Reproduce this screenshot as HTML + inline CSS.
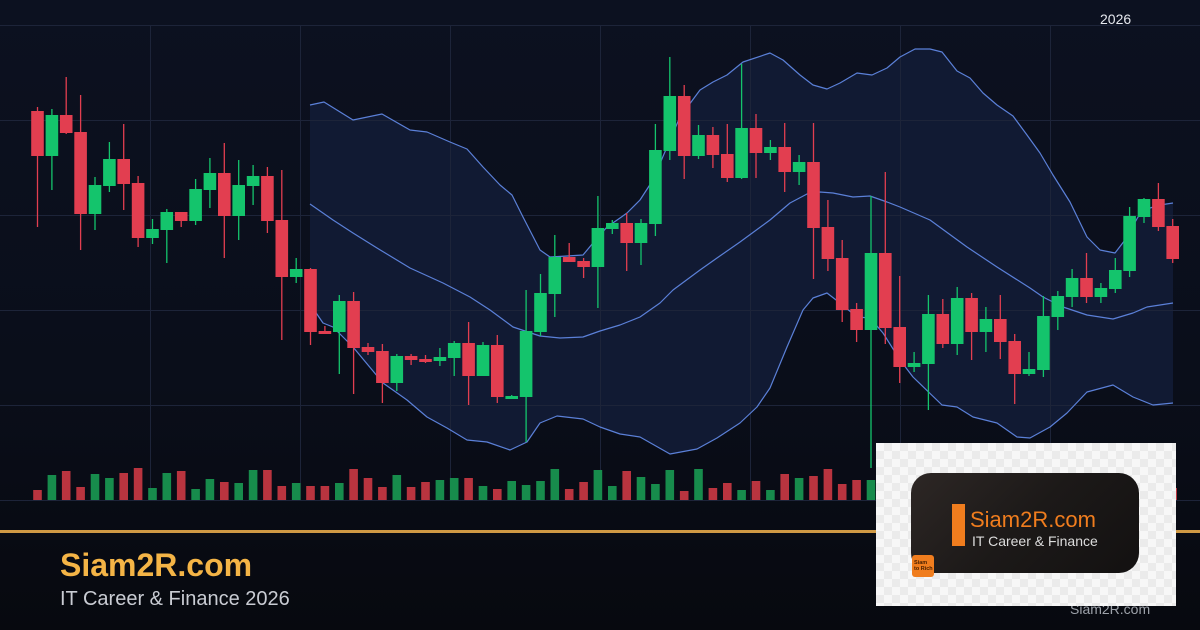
<!DOCTYPE html>
<html>
<head>
<meta charset="utf-8">
<style>
  html,body{margin:0;padding:0;}
  body{width:1200px;height:630px;overflow:hidden;position:relative;
    background:linear-gradient(180deg,#0c1120 0%,#0a0e1a 60%,#07090f 100%);
    font-family:"Liberation Sans",Arial,sans-serif;}
  svg{position:absolute;left:0;top:0;}
  .g line{stroke:#14c46c;stroke-width:1.3}
  .g .b{fill:#14c46c}
  .g .v{fill:#178c4c}
  .r line{stroke:#e23e50;stroke-width:1.3}
  .r .b{fill:#e23e50}
  .r .v{fill:#b9343f}
  .title{position:absolute;left:60px;top:547px;font-size:32px;font-weight:bold;color:#f4b446;letter-spacing:0px;}
  .sub{position:absolute;left:60px;top:588px;font-size:20px;color:#c9ccd3;}
  .yr{position:absolute;left:1100px;top:11px;font-size:14px;color:#e6e8ee;}
  .wm{position:absolute;left:1070px;top:601px;font-size:14px;color:#9da2aa;}
  .logo{position:absolute;left:876px;top:443px;width:300px;height:163px;
    background:repeating-conic-gradient(#ebebeb 0% 25%,#f7f7f7 0% 50%) 0 0/16px 16px;}
  .card{position:absolute;left:35px;top:30px;width:228px;height:100px;border-radius:20px;
    background:linear-gradient(135deg,#2d2725 0%,#1c1918 50%,#131111 100%);}
  .bar{position:absolute;left:41px;top:31px;width:13px;height:42px;background:#f07d1e;}
  .lt{position:absolute;left:59px;top:34px;font-size:22px;color:#f07d1e;white-space:nowrap;}
  .ls{position:absolute;left:61px;top:59px;font-size:14px;color:#dcdcdc;white-space:nowrap;}
  .badge{position:absolute;left:36px;top:112px;width:22px;height:22px;border-radius:3px;background:#f07d1e;
    font-size:5.5px;line-height:6px;color:#4a2000;font-weight:bold;padding:5px 0 0 2px;box-sizing:border-box;}
</style>
</head>
<body>
<svg width="1200" height="630" viewBox="0 0 1200 630">
  <polygon fill="#111a33" points="310,105 324,102 353,120 382,114 410,130 427,132 450,142 467,149 483,167 500,185 512,195 523,217 540,250 550,257 567,256 583,255 593,243 607,227 620,218 627,213 640,200 653,180 667,147 680,117 700,90 713,82 727,75 743,62 770,53 783,60 800,75 813,85 827,89 840,83 857,73 872,75 887,68 900,57 915,49 930,49 942,52 957,71 970,78 983,93 997,105 1013,116 1027,135 1040,153 1053,175 1070,202 1087,237 1100,250 1115,253 1125,240 1138,217 1150,208 1160,205 1173,203 1173,403 1153,405 1133,397 1113,385 1087,392 1067,413 1050,427 1030,438 1017,437 997,423 973,417 957,407 942,405 913,377 900,360 883,333 870,318 857,317 840,303 827,293 813,298 803,310 787,347 770,388 757,407 740,423 717,438 697,449 670,454 640,437 620,434 600,427 583,419 557,416 540,423 527,442 510,450 487,442 467,440 447,428 427,417 407,400 383,383 353,347 333,327 323,323 310,304"/>
  <g stroke="#1d2439" stroke-width="1">
    <line x1="0" y1="25.5" x2="1200" y2="25.5"/>
    <line x1="0" y1="120.5" x2="1200" y2="120.5"/>
    <line x1="0" y1="215.5" x2="1200" y2="215.5"/>
    <line x1="0" y1="310.5" x2="1200" y2="310.5"/>
    <line x1="0" y1="405.5" x2="1200" y2="405.5"/>
    <line x1="0" y1="500.5" x2="1200" y2="500.5"/>
    <line x1="150.5" y1="25" x2="150.5" y2="500"/>
    <line x1="300.5" y1="25" x2="300.5" y2="500"/>
    <line x1="450.5" y1="25" x2="450.5" y2="500"/>
    <line x1="600.5" y1="25" x2="600.5" y2="500"/>
    <line x1="750.5" y1="25" x2="750.5" y2="500"/>
    <line x1="900.5" y1="25" x2="900.5" y2="500"/>
    <line x1="1050.5" y1="25" x2="1050.5" y2="500"/>
  </g>
  <g fill="none" stroke="#5b80d8" stroke-width="1.2" stroke-linejoin="round">
    <polyline points="310,105 324,102 353,120 382,114 410,130 427,132 450,142 467,149 483,167 500,185 512,195 523,217 540,250 550,257 567,256 583,255 593,243 607,227 620,218 627,213 640,200 653,180 667,147 680,117 700,90 713,82 727,75 743,62 770,53 783,60 800,75 813,85 827,89 840,83 857,73 872,75 887,68 900,57 915,49 930,49 942,52 957,71 970,78 983,93 997,105 1013,116 1027,135 1040,153 1053,175 1070,202 1087,237 1100,250 1115,253 1125,240 1138,217 1150,208 1160,205 1173,203"/>
    <polyline points="310,204 333,220 353,233 377,248 410,268 443,283 470,297 490,310 513,327 540,336 560,338 583,337 600,331 620,325 640,317 660,303 673,290 700,270 717,258 740,242 770,220 790,203 807,194 820,192 833,193 853,197 870,196 887,202 900,207 930,220 967,247 997,267 1030,288 1043,297 1063,307 1087,315 1113,319 1133,313 1147,307 1173,303"/>
    <polyline points="310,304 323,323 333,327 353,347 383,383 407,400 427,417 447,428 467,440 487,442 510,450 527,442 540,423 557,416 583,419 600,427 620,434 640,437 670,454 697,449 717,438 740,423 757,407 770,388 787,347 803,310 813,298 827,293 840,303 857,317 870,318 883,333 900,360 913,377 942,405 957,407 973,417 997,423 1017,437 1030,438 1050,427 1067,413 1087,392 1113,385 1133,397 1153,405 1173,403"/>
  </g>
  <g class="r" transform="translate(37.5 0)"><line y1="107" y2="227"/><rect class="b" x="-6.3" y="111" width="12.6" height="45"/><rect class="v" x="-4.3" y="490" width="8.6" height="10"/></g>
  <g class="g" transform="translate(51.9 0)"><line y1="109" y2="190"/><rect class="b" x="-6.3" y="115" width="12.6" height="41"/><rect class="v" x="-4.3" y="475" width="8.6" height="25"/></g>
  <g class="r" transform="translate(66.2 0)"><line y1="77" y2="134"/><rect class="b" x="-6.3" y="115" width="12.6" height="18"/><rect class="v" x="-4.3" y="471" width="8.6" height="29"/></g>
  <g class="r" transform="translate(80.6 0)"><line y1="95" y2="250"/><rect class="b" x="-6.3" y="132" width="12.6" height="82"/><rect class="v" x="-4.3" y="487" width="8.6" height="13"/></g>
  <g class="g" transform="translate(95.0 0)"><line y1="177" y2="230"/><rect class="b" x="-6.3" y="185" width="12.6" height="29"/><rect class="v" x="-4.3" y="474" width="8.6" height="26"/></g>
  <g class="g" transform="translate(109.4 0)"><line y1="142" y2="192"/><rect class="b" x="-6.3" y="159" width="12.6" height="27"/><rect class="v" x="-4.3" y="478" width="8.6" height="22"/></g>
  <g class="r" transform="translate(123.7 0)"><line y1="124" y2="210"/><rect class="b" x="-6.3" y="159" width="12.6" height="25"/><rect class="v" x="-4.3" y="473" width="8.6" height="27"/></g>
  <g class="r" transform="translate(138.1 0)"><line y1="176" y2="247"/><rect class="b" x="-6.3" y="183" width="12.6" height="55"/><rect class="v" x="-4.3" y="468" width="8.6" height="32"/></g>
  <g class="g" transform="translate(152.5 0)"><line y1="219" y2="244"/><rect class="b" x="-6.3" y="229" width="12.6" height="9"/><rect class="v" x="-4.3" y="488" width="8.6" height="12"/></g>
  <g class="g" transform="translate(166.8 0)"><line y1="209" y2="263"/><rect class="b" x="-6.3" y="212" width="12.6" height="18"/><rect class="v" x="-4.3" y="473" width="8.6" height="27"/></g>
  <g class="r" transform="translate(181.2 0)"><line y1="212" y2="227"/><rect class="b" x="-6.3" y="212" width="12.6" height="9"/><rect class="v" x="-4.3" y="471" width="8.6" height="29"/></g>
  <g class="g" transform="translate(195.6 0)"><line y1="179" y2="225"/><rect class="b" x="-6.3" y="189" width="12.6" height="32"/><rect class="v" x="-4.3" y="489" width="8.6" height="11"/></g>
  <g class="g" transform="translate(209.9 0)"><line y1="158" y2="208"/><rect class="b" x="-6.3" y="173" width="12.6" height="17"/><rect class="v" x="-4.3" y="479" width="8.6" height="21"/></g>
  <g class="r" transform="translate(224.3 0)"><line y1="143" y2="258"/><rect class="b" x="-6.3" y="173" width="12.6" height="43"/><rect class="v" x="-4.3" y="482" width="8.6" height="18"/></g>
  <g class="g" transform="translate(238.7 0)"><line y1="160" y2="240"/><rect class="b" x="-6.3" y="185" width="12.6" height="31"/><rect class="v" x="-4.3" y="483" width="8.6" height="17"/></g>
  <g class="g" transform="translate(253.1 0)"><line y1="165" y2="205"/><rect class="b" x="-6.3" y="176" width="12.6" height="10"/><rect class="v" x="-4.3" y="470" width="8.6" height="30"/></g>
  <g class="r" transform="translate(267.4 0)"><line y1="167" y2="233"/><rect class="b" x="-6.3" y="176" width="12.6" height="45"/><rect class="v" x="-4.3" y="470" width="8.6" height="30"/></g>
  <g class="r" transform="translate(281.8 0)"><line y1="170" y2="340"/><rect class="b" x="-6.3" y="220" width="12.6" height="57"/><rect class="v" x="-4.3" y="486" width="8.6" height="14"/></g>
  <g class="g" transform="translate(296.2 0)"><line y1="258" y2="283"/><rect class="b" x="-6.3" y="269" width="12.6" height="8"/><rect class="v" x="-4.3" y="483" width="8.6" height="17"/></g>
  <g class="r" transform="translate(310.5 0)"><line y1="268" y2="345"/><rect class="b" x="-6.3" y="269" width="12.6" height="63"/><rect class="v" x="-4.3" y="486" width="8.6" height="14"/></g>
  <g class="r" transform="translate(324.9 0)"><line y1="326" y2="334"/><rect class="b" x="-6.3" y="331" width="12.6" height="3"/><rect class="v" x="-4.3" y="486" width="8.6" height="14"/></g>
  <g class="g" transform="translate(339.3 0)"><line y1="295" y2="374"/><rect class="b" x="-6.3" y="301" width="12.6" height="31"/><rect class="v" x="-4.3" y="483" width="8.6" height="17"/></g>
  <g class="r" transform="translate(353.6 0)"><line y1="292" y2="394"/><rect class="b" x="-6.3" y="301" width="12.6" height="47"/><rect class="v" x="-4.3" y="469" width="8.6" height="31"/></g>
  <g class="r" transform="translate(368.0 0)"><line y1="343" y2="355"/><rect class="b" x="-6.3" y="347" width="12.6" height="5"/><rect class="v" x="-4.3" y="478" width="8.6" height="22"/></g>
  <g class="r" transform="translate(382.4 0)"><line y1="344" y2="403"/><rect class="b" x="-6.3" y="351" width="12.6" height="32"/><rect class="v" x="-4.3" y="487" width="8.6" height="13"/></g>
  <g class="g" transform="translate(396.8 0)"><line y1="354" y2="391"/><rect class="b" x="-6.3" y="356" width="12.6" height="27"/><rect class="v" x="-4.3" y="475" width="8.6" height="25"/></g>
  <g class="r" transform="translate(411.1 0)"><line y1="354" y2="365"/><rect class="b" x="-6.3" y="356" width="12.6" height="4"/><rect class="v" x="-4.3" y="487" width="8.6" height="13"/></g>
  <g class="r" transform="translate(425.5 0)"><line y1="355" y2="363"/><rect class="b" x="-6.3" y="359" width="12.6" height="3"/><rect class="v" x="-4.3" y="482" width="8.6" height="18"/></g>
  <g class="g" transform="translate(439.9 0)"><line y1="348" y2="366"/><rect class="b" x="-6.3" y="357" width="12.6" height="4"/><rect class="v" x="-4.3" y="480" width="8.6" height="20"/></g>
  <g class="g" transform="translate(454.2 0)"><line y1="341" y2="376"/><rect class="b" x="-6.3" y="343" width="12.6" height="15"/><rect class="v" x="-4.3" y="478" width="8.6" height="22"/></g>
  <g class="r" transform="translate(468.6 0)"><line y1="322" y2="405"/><rect class="b" x="-6.3" y="343" width="12.6" height="33"/><rect class="v" x="-4.3" y="478" width="8.6" height="22"/></g>
  <g class="g" transform="translate(483.0 0)"><line y1="342" y2="376"/><rect class="b" x="-6.3" y="345" width="12.6" height="31"/><rect class="v" x="-4.3" y="486" width="8.6" height="14"/></g>
  <g class="r" transform="translate(497.3 0)"><line y1="335" y2="403"/><rect class="b" x="-6.3" y="345" width="12.6" height="52"/><rect class="v" x="-4.3" y="489" width="8.6" height="11"/></g>
  <g class="g" transform="translate(511.7 0)"><line y1="395" y2="399"/><rect class="b" x="-6.3" y="396" width="12.6" height="3"/><rect class="v" x="-4.3" y="481" width="8.6" height="19"/></g>
  <g class="g" transform="translate(526.1 0)"><line y1="290" y2="442"/><rect class="b" x="-6.3" y="331" width="12.6" height="66"/><rect class="v" x="-4.3" y="485" width="8.6" height="15"/></g>
  <g class="g" transform="translate(540.5 0)"><line y1="274" y2="336"/><rect class="b" x="-6.3" y="293" width="12.6" height="39"/><rect class="v" x="-4.3" y="481" width="8.6" height="19"/></g>
  <g class="g" transform="translate(554.8 0)"><line y1="235" y2="317"/><rect class="b" x="-6.3" y="257" width="12.6" height="37"/><rect class="v" x="-4.3" y="469" width="8.6" height="31"/></g>
  <g class="r" transform="translate(569.2 0)"><line y1="243" y2="262"/><rect class="b" x="-6.3" y="257" width="12.6" height="5"/><rect class="v" x="-4.3" y="489" width="8.6" height="11"/></g>
  <g class="r" transform="translate(583.6 0)"><line y1="258" y2="278"/><rect class="b" x="-6.3" y="261" width="12.6" height="6"/><rect class="v" x="-4.3" y="482" width="8.6" height="18"/></g>
  <g class="g" transform="translate(597.9 0)"><line y1="196" y2="308"/><rect class="b" x="-6.3" y="228" width="12.6" height="39"/><rect class="v" x="-4.3" y="470" width="8.6" height="30"/></g>
  <g class="g" transform="translate(612.3 0)"><line y1="220" y2="234"/><rect class="b" x="-6.3" y="223" width="12.6" height="6"/><rect class="v" x="-4.3" y="486" width="8.6" height="14"/></g>
  <g class="r" transform="translate(626.7 0)"><line y1="213" y2="271"/><rect class="b" x="-6.3" y="223" width="12.6" height="20"/><rect class="v" x="-4.3" y="471" width="8.6" height="29"/></g>
  <g class="g" transform="translate(641.0 0)"><line y1="219" y2="265"/><rect class="b" x="-6.3" y="223" width="12.6" height="20"/><rect class="v" x="-4.3" y="477" width="8.6" height="23"/></g>
  <g class="g" transform="translate(655.4 0)"><line y1="124" y2="236"/><rect class="b" x="-6.3" y="150" width="12.6" height="74"/><rect class="v" x="-4.3" y="484" width="8.6" height="16"/></g>
  <g class="g" transform="translate(669.8 0)"><line y1="57" y2="160"/><rect class="b" x="-6.3" y="96" width="12.6" height="55"/><rect class="v" x="-4.3" y="470" width="8.6" height="30"/></g>
  <g class="r" transform="translate(684.2 0)"><line y1="85" y2="179"/><rect class="b" x="-6.3" y="96" width="12.6" height="60"/><rect class="v" x="-4.3" y="491" width="8.6" height="9"/></g>
  <g class="g" transform="translate(698.5 0)"><line y1="125" y2="159"/><rect class="b" x="-6.3" y="135" width="12.6" height="21"/><rect class="v" x="-4.3" y="469" width="8.6" height="31"/></g>
  <g class="r" transform="translate(712.9 0)"><line y1="127" y2="168"/><rect class="b" x="-6.3" y="135" width="12.6" height="20"/><rect class="v" x="-4.3" y="488" width="8.6" height="12"/></g>
  <g class="r" transform="translate(727.3 0)"><line y1="124" y2="182"/><rect class="b" x="-6.3" y="154" width="12.6" height="24"/><rect class="v" x="-4.3" y="483" width="8.6" height="17"/></g>
  <g class="g" transform="translate(741.6 0)"><line y1="64" y2="179"/><rect class="b" x="-6.3" y="128" width="12.6" height="50"/><rect class="v" x="-4.3" y="490" width="8.6" height="10"/></g>
  <g class="r" transform="translate(756.0 0)"><line y1="114" y2="178"/><rect class="b" x="-6.3" y="128" width="12.6" height="25"/><rect class="v" x="-4.3" y="481" width="8.6" height="19"/></g>
  <g class="g" transform="translate(770.4 0)"><line y1="140" y2="160"/><rect class="b" x="-6.3" y="147" width="12.6" height="6"/><rect class="v" x="-4.3" y="490" width="8.6" height="10"/></g>
  <g class="r" transform="translate(784.7 0)"><line y1="123" y2="192"/><rect class="b" x="-6.3" y="147" width="12.6" height="25"/><rect class="v" x="-4.3" y="474" width="8.6" height="26"/></g>
  <g class="g" transform="translate(799.1 0)"><line y1="155" y2="185"/><rect class="b" x="-6.3" y="162" width="12.6" height="10"/><rect class="v" x="-4.3" y="478" width="8.6" height="22"/></g>
  <g class="r" transform="translate(813.5 0)"><line y1="123" y2="279"/><rect class="b" x="-6.3" y="162" width="12.6" height="66"/><rect class="v" x="-4.3" y="476" width="8.6" height="24"/></g>
  <g class="r" transform="translate(827.9 0)"><line y1="200" y2="271"/><rect class="b" x="-6.3" y="227" width="12.6" height="32"/><rect class="v" x="-4.3" y="469" width="8.6" height="31"/></g>
  <g class="r" transform="translate(842.2 0)"><line y1="240" y2="322"/><rect class="b" x="-6.3" y="258" width="12.6" height="52"/><rect class="v" x="-4.3" y="484" width="8.6" height="16"/></g>
  <g class="r" transform="translate(856.6 0)"><line y1="303" y2="342"/><rect class="b" x="-6.3" y="309" width="12.6" height="21"/><rect class="v" x="-4.3" y="480" width="8.6" height="20"/></g>
  <g class="g" transform="translate(871.0 0)"><line y1="196" y2="468"/><rect class="b" x="-6.3" y="253" width="12.6" height="77"/><rect class="v" x="-4.3" y="480" width="8.6" height="20"/></g>
  <g class="r" transform="translate(885.3 0)"><line y1="172" y2="344"/><rect class="b" x="-6.3" y="253" width="12.6" height="75"/><rect class="v" x="-4.3" y="478" width="8.6" height="22"/></g>
  <g class="r" transform="translate(899.7 0)"><line y1="276" y2="383"/><rect class="b" x="-6.3" y="327" width="12.6" height="40"/><rect class="v" x="-4.3" y="484" width="8.6" height="16"/></g>
  <g class="g" transform="translate(914.1 0)"><line y1="352" y2="372"/><rect class="b" x="-6.3" y="363" width="12.6" height="4"/><rect class="v" x="-4.3" y="488" width="8.6" height="12"/></g>
  <g class="g" transform="translate(928.4 0)"><line y1="295" y2="410"/><rect class="b" x="-6.3" y="314" width="12.6" height="50"/><rect class="v" x="-4.3" y="476" width="8.6" height="24"/></g>
  <g class="r" transform="translate(942.8 0)"><line y1="299" y2="348"/><rect class="b" x="-6.3" y="314" width="12.6" height="30"/><rect class="v" x="-4.3" y="482" width="8.6" height="18"/></g>
  <g class="g" transform="translate(957.2 0)"><line y1="287" y2="355"/><rect class="b" x="-6.3" y="298" width="12.6" height="46"/><rect class="v" x="-4.3" y="474" width="8.6" height="26"/></g>
  <g class="r" transform="translate(971.6 0)"><line y1="293" y2="360"/><rect class="b" x="-6.3" y="298" width="12.6" height="34"/><rect class="v" x="-4.3" y="486" width="8.6" height="14"/></g>
  <g class="g" transform="translate(985.9 0)"><line y1="307" y2="352"/><rect class="b" x="-6.3" y="319" width="12.6" height="13"/><rect class="v" x="-4.3" y="483" width="8.6" height="17"/></g>
  <g class="r" transform="translate(1000.3 0)"><line y1="295" y2="359"/><rect class="b" x="-6.3" y="319" width="12.6" height="23"/><rect class="v" x="-4.3" y="480" width="8.6" height="20"/></g>
  <g class="r" transform="translate(1014.7 0)"><line y1="334" y2="404"/><rect class="b" x="-6.3" y="341" width="12.6" height="33"/><rect class="v" x="-4.3" y="472" width="8.6" height="28"/></g>
  <g class="g" transform="translate(1029.0 0)"><line y1="352" y2="376"/><rect class="b" x="-6.3" y="369" width="12.6" height="5"/><rect class="v" x="-4.3" y="488" width="8.6" height="12"/></g>
  <g class="g" transform="translate(1043.4 0)"><line y1="296" y2="377"/><rect class="b" x="-6.3" y="316" width="12.6" height="54"/><rect class="v" x="-4.3" y="470" width="8.6" height="30"/></g>
  <g class="g" transform="translate(1057.8 0)"><line y1="291" y2="330"/><rect class="b" x="-6.3" y="296" width="12.6" height="21"/><rect class="v" x="-4.3" y="479" width="8.6" height="21"/></g>
  <g class="g" transform="translate(1072.1 0)"><line y1="269" y2="307"/><rect class="b" x="-6.3" y="278" width="12.6" height="19"/><rect class="v" x="-4.3" y="484" width="8.6" height="16"/></g>
  <g class="r" transform="translate(1086.5 0)"><line y1="253" y2="303"/><rect class="b" x="-6.3" y="278" width="12.6" height="19"/><rect class="v" x="-4.3" y="478" width="8.6" height="22"/></g>
  <g class="g" transform="translate(1100.9 0)"><line y1="283" y2="303"/><rect class="b" x="-6.3" y="288" width="12.6" height="9"/><rect class="v" x="-4.3" y="489" width="8.6" height="11"/></g>
  <g class="g" transform="translate(1115.3 0)"><line y1="258" y2="293"/><rect class="b" x="-6.3" y="270" width="12.6" height="19"/><rect class="v" x="-4.3" y="481" width="8.6" height="19"/></g>
  <g class="g" transform="translate(1129.6 0)"><line y1="207" y2="277"/><rect class="b" x="-6.3" y="216" width="12.6" height="55"/><rect class="v" x="-4.3" y="468" width="8.6" height="32"/></g>
  <g class="g" transform="translate(1144.0 0)"><line y1="198" y2="223"/><rect class="b" x="-6.3" y="199" width="12.6" height="18"/><rect class="v" x="-4.3" y="485" width="8.6" height="15"/></g>
  <g class="r" transform="translate(1158.4 0)"><line y1="183" y2="231"/><rect class="b" x="-6.3" y="199" width="12.6" height="28"/><rect class="v" x="-4.3" y="476" width="8.6" height="24"/></g>
  <g class="r" transform="translate(1172.7 0)"><line y1="219" y2="263"/><rect class="b" x="-6.3" y="226" width="12.6" height="33"/><rect class="v" x="-4.3" y="488" width="8.6" height="12"/></g>
  <rect x="0" y="530" width="1200" height="3" fill="#cf9944"/>
</svg>

<div class="yr">2026</div>
<div class="title">Siam2R.com</div>
<div class="sub">IT Career &amp; Finance 2026</div>
<div class="wm">Siam2R.com</div>

<div class="logo">
  <div class="card"></div>
  <div class="bar" style="left:76px;top:61px;"></div>
  <div class="lt" style="left:94px;top:64px;">Siam2R.com</div>
  <div class="ls" style="left:96px;top:90px;">IT Career &amp; Finance</div>
  <div class="badge">Siam<br>to Rich</div>
</div>
</body>
</html>
